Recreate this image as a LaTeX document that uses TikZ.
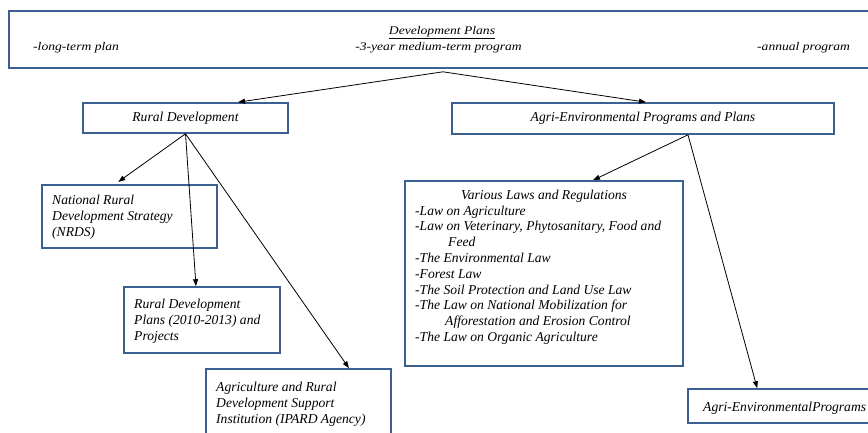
\documentclass[tikz,border=0pt]{standalone}
\usepackage{fontspec}
\setmainfont{Liberation Serif}
\usetikzlibrary{arrows.meta}
\definecolor{boxblue}{RGB}{60,96,145}
\newcommand{\txtfont}{\fontsize{13.6}{16}\selectfont\itshape}
\newcommand{\lawfont}{\fontsize{13.6}{15.8}\selectfont\itshape}
\newcommand{\topsq}[1]{\scalebox{1}[0.86]{#1}}
\begin{document}
\begin{tikzpicture}[x=1pt,y=-1pt,
  boxnode/.style={draw=boxblue,line width=1.6pt,rectangle,inner sep=0pt,font=\txtfont},
  txt/.style={inner sep=0pt,font=\txtfont,align=left,anchor=north west},
  conn/.style={draw=black,line width=0.8pt,-{Triangle[length=7pt,width=5pt]}}]
\path[use as bounding box,clip] (0,0) rectangle (868,432);
% boxes
\node[boxnode,minimum width=863pt,minimum height=57pt] (top) at (440.5,39.5) {};
\node[boxnode,minimum width=205pt,minimum height=30pt] (rd) at (185.5,118) {Rural Development};
\node[boxnode,minimum width=382pt,minimum height=31pt] (ae) at (643,118.5) {Agri-Environmental Programs and Plans};
\node[boxnode,minimum width=175pt,minimum height=63pt] (nrds) at (129.5,216.5) {};
\node[boxnode,minimum width=156pt,minimum height=66pt] (rdp) at (202,320) {};
\node[boxnode,minimum width=185pt,minimum height=80pt] (ipard) at (298.5,409) {};
\node[boxnode,minimum width=278pt,minimum height=185pt] (laws) at (544,273.5) {};
\node[boxnode,minimum width=192pt,minimum height=34pt] (aep) at (784,406) {};
% top box texts
\node[inner sep=0pt,font=\txtfont,anchor=base] (dptitle) at (442,34.5) {\topsq{\underline{Development Plans}}};
\node[inner sep=0pt,font=\txtfont,anchor=base] (dpmid) at (438.5,50) {\topsq{-3-year medium-term program}};
\node[inner sep=0pt,font=\txtfont,anchor=base west] (dpleft) at (33,50) {\topsq{-long-term plan}};
\node[inner sep=0pt,font=\txtfont,anchor=base west] (dpright) at (757,50) {\topsq{-annual program}};
% box texts
\node[txt] (nrdst) at (52,192.8) {\strut National Rural\\Development Strategy\\(NRDS)};
\node[txt] (rdpt) at (134,297.3) {\strut Rural Development\\Plans (2010-2013) and\\Projects};
\node[txt] (ipardt) at (216,380.3) {\strut Agriculture and Rural\\Development Support\\Institution (IPARD Agency)};
\node[inner sep=0pt,font=\txtfont,anchor=base] (lawtitle) at (544,199) {Various Laws and Regulations};
\node[txt,font=\lawfont] (lawt) at (415,203.8) {\strut -Law on Agriculture\\
-Law on Veterinary, Phytosanitary, Food and\\
\hspace*{33pt}Feed\\
-The Environmental Law\\
-Forest Law\\
-The Soil Protection and Land Use Law\\
-The Law on National Mobilization for\\
\hspace*{30pt}Afforestation and Erosion Control\\
-The Law on Organic Agriculture};
\node[inner sep=0pt,font=\txtfont,anchor=base west] (aept) at (703,411) {Agri-EnvironmentalPrograms};
% connectors
\coordinate (apex) at ([xshift=2.5pt,yshift=-3pt]top.south);
\draw[conn] (apex) -- ([xshift=52.5pt]rd.north);
\draw[conn] (apex) -- ([xshift=3pt]ae.north);
\draw[conn,shorten >=4pt] (rd.south) -- ([xshift=-14.5pt]nrds.north);
\draw[conn] (rd.south) -- ([xshift=-6pt]rdp.north);
\draw[conn] (rd.south) -- ([xshift=50.5pt]ipard.north);
\draw[conn] ([xshift=45pt]ae.south) -- ([xshift=49pt]laws.north);
\draw[conn] ([xshift=45pt]ae.south) -- ([xshift=70pt]aep.north west);
\end{tikzpicture}
\end{document}
